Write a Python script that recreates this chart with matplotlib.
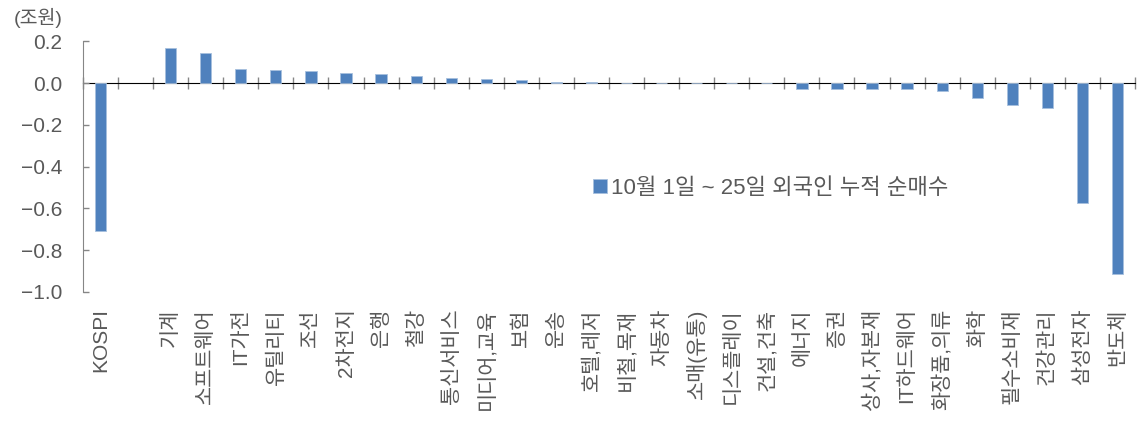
import matplotlib
matplotlib.use("Agg")
import matplotlib.pyplot as plt
import numpy as np

plt.rcParams["font.family"] = ["Liberation Sans", "Noto Sans CJK KR", "DejaVu Sans"]

# sector names (blank slot after KOSPI as in the source chart)
categories = [
    "KOSPI", "", "기계", "소프트웨어", "IT가전", "유틸리티", "조선", "2차전지",
    "은행", "철강", "통신서비스", "미디어,교육", "보험", "운송", "호텔,레저",
    "비철,목재", "자동차", "소매(유통)", "디스플레이", "건설,건축", "에너지",
    "증권", "상사,자본재", "IT하드웨어", "화장품,의류", "화학", "필수소비재",
    "건강관리", "삼성전자", "반도체",
]
# 10/1 ~ 10/25 foreign cumulative net buying (trillion won)
net_buy = [
    -0.708, np.nan, 0.169, 0.145, 0.067, 0.064, 0.058, 0.050,
    0.043, 0.034, 0.024, 0.019, 0.013, 0.008, 0.005,
    0.003, 0.001, 0.0005, 0.0005, -0.001, -0.027,
    -0.027, -0.030, -0.030, -0.038, -0.073, -0.105,
    -0.117, -0.576, -0.913,
]
y_ticks = [0.2, 0.0, -0.2, -0.4, -0.6, -0.8, -1.0]
series_label = "10월 1일 ~ 25일 외국인 누적 순매수"

text_color = "#595959"
axis_color = "#868686"
bar_color = "#4F81BD"

fig = plt.figure(figsize=(11.45, 4.25), dpi=100)
ax = fig.add_axes([0.0725, 0.3136, 0.9188, 0.5888])

x = np.arange(len(categories))
ax.bar(x, net_buy, width=0.32, color=bar_color, edgecolor="#A7C0DE",
       linewidth=0.6, label=series_label)

ax.set_xlim(-0.5, len(categories) - 0.5)
ax.set_ylim(-1.0, 0.2)

# y axis
ax.set_yticks(y_ticks)
ax.set_yticklabels([f"{v:.1f}".replace("-", "\u2212") for v in y_ticks])
ax.tick_params(axis="y", direction="in", length=4.5, width=1, color=axis_color,
               labelsize=15, labelcolor=text_color, pad=15)
ax.spines["left"].set_color(axis_color)
for s in ["top", "right", "bottom"]:
    ax.spines[s].set_visible(False)

# category labels sit at the bottom of the plot area
ax.set_xticks(x)
ax.set_xticklabels(categories, rotation=90)
ax.tick_params(axis="x", length=0, labelsize=15, labelcolor=text_color, pad=12)

# horizontal axis line at zero with boundary ticks
zero_pos = (0 - (-1.0)) / (0.2 - (-1.0))
sec = ax.secondary_xaxis(zero_pos)
sec.set_xticks(np.arange(-0.5, len(categories), 1.0))
sec.set_xticklabels([])
sec.tick_params(axis="x", direction="inout", length=9, width=1, color=axis_color)
sec.spines["bottom"].set_color(axis_color)
sec.spines["bottom"].set_linewidth(1)

ax.text(-0.066, 1.093, "(조원)", transform=ax.transAxes, fontsize=14,
        color=text_color, va="center", ha="left")

leg = ax.legend(loc="center left", bbox_to_anchor=(0.485, 0.414), frameon=False,
                handlelength=0.6, handleheight=0.6, handletextpad=0.2,
                borderpad=0, borderaxespad=0, fontsize=16)
for t in leg.get_texts():
    t.set_color(text_color)

fig.savefig("out.png", dpi=100)
